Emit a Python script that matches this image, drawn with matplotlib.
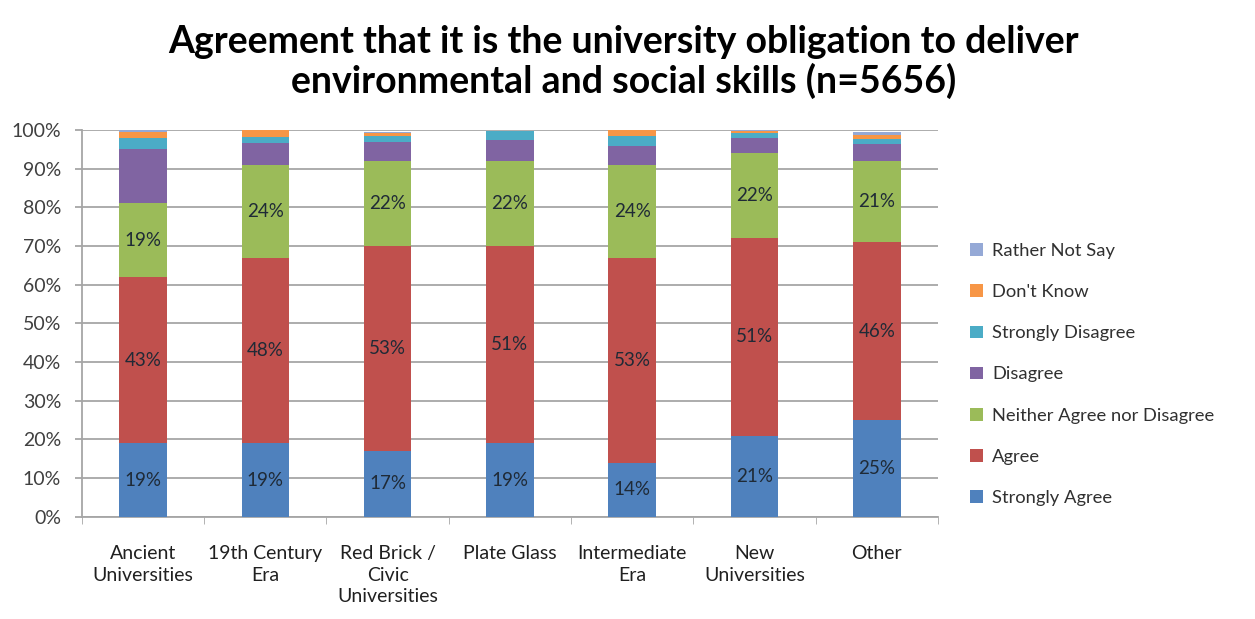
import numpy as np
import matplotlib
matplotlib.use("Agg")
import matplotlib.pyplot as plt

plt.rcParams['font.family'] = ['Lato', 'DejaVu Sans']

categories = ['Ancient\nUniversities', '19th Century\nEra', 'Red Brick /\nCivic\nUniversities',
              'Plate Glass', 'Intermediate\nEra', 'New\nUniversities', 'Other']
series = ['Strongly Agree', 'Agree', 'Neither Agree nor Disagree', 'Disagree',
          'Strongly Disagree', "Don't Know", 'Rather Not Say']
strongly_agree = [19, 19, 17, 19, 14, 21, 25]
agree = [43, 48, 53, 51, 53, 51, 46]
neither = [19, 24, 22, 22, 24, 22, 21]
disagree = [14, 5.6, 5, 5.5, 4.9, 3.9, 4.4]
strongly_disagree = [3, 1.6, 1.5, 2.3, 2.5, 1.3, 1.3]
dont_know = [1.5, 2, 0.6, 0, 1.6, 0.5, 1.0]
rather_not = [0.8, 0, 0.4, 0, 0, 0.3, 0.8]
colors = ['#4F81BD', '#C0504D', '#9BBB59', '#8064A2', '#4BACC6', '#F79646', '#95A9D6']

data = [strongly_agree, agree, neither, disagree, strongly_disagree, dont_know, rather_not]

fig = plt.figure(figsize=(12.55, 6.19), dpi=100)
ax = fig.add_axes([0.0653, 0.165, 0.682, 0.625])

x = np.arange(len(categories))
bottom = np.zeros(len(categories))
handles = []
for i, vals in enumerate(data):
    vals = np.array(vals, dtype=float)
    b = ax.bar(x, vals, 0.39, bottom=bottom, color=colors[i], label=series[i], zorder=3)
    handles.append(b)
    if i < 3:
        for xi, v, bt in zip(x, vals, bottom):
            ax.text(xi, bt + v / 2, '%d%%' % round(v), ha='center', va='center',
                    fontsize=13.5, color='#1f2a36', zorder=4)
    bottom += vals

ax.set_xlim(-0.5, len(categories) - 0.5)
ax.set_ylim(0, 100)
ax.set_yticks(np.arange(0, 101, 10))
ax.set_yticklabels(['%d%%' % t for t in range(0, 101, 10)], fontsize=14, color='#404040')
ax.yaxis.grid(True, color='#a6a6a6', lw=1.3, zorder=0)
ax.set_xticks(x)
ax.set_xticklabels(categories, fontsize=14, color='#202020', va='top', linespacing=1.35)
ax.tick_params(axis='x', length=0, pad=20)
ax.set_xticks(np.arange(-0.5, len(categories), 1), minor=True)
ax.tick_params(axis='x', which='minor', length=5, color='#a6a6a6')
ax.tick_params(axis='y', length=5, color='#a6a6a6', width=1.3, pad=10)
for s in ['top', 'right']:
    ax.spines[s].set_visible(False)
for s in ['left', 'bottom']:
    ax.spines[s].set_color('#a6a6a6')
    ax.spines[s].set_linewidth(1.3)

leg = fig.legend(handles[::-1], series[::-1], loc='center left', bbox_to_anchor=(0.76, 0.395),
                 frameon=False, fontsize=13.2, handlelength=0.7, handleheight=0.7,
                 labelspacing=1.37, handletextpad=0.5)
for t in leg.get_texts():
    t.set_color('#303030')

fig.text(0.497, 0.9, 'Agreement that it is the university obligation to deliver\n'
         'environmental and social skills (n=5656)', ha='center', va='center',
         fontsize=27, fontweight='bold', linespacing=1.15)

fig.savefig('out.png', dpi=100)
